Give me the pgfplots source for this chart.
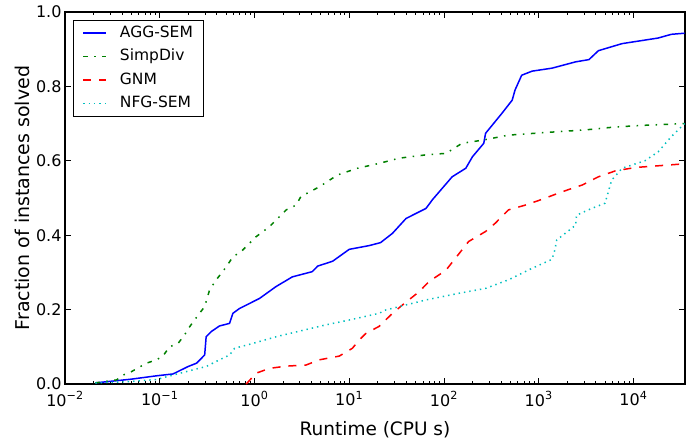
\documentclass[border=0pt]{standalone}
\usepackage{fontspec}
\setmainfont{DejaVu Sans}
\usepackage{pgfplots}
\pgfplotsset{compat=1.18}
\definecolor{mplgreen}{rgb}{0,0.5,0}
\definecolor{mplcyan}{rgb}{0,0.75,0.75}
\begin{document}
\fontsize{16bp}{19bp}\selectfont
\begin{tikzpicture}
\begin{axis}[
  scale only axis, width=620bp, height=372bp,
  xmode=log, xmin=0.01, xmax=35000, ymin=0, ymax=1,
  axis line style={line width=1.1bp},
  every tick/.style={black, line width=0.8bp},
  major tick length=6bp, minor tick length=3.5bp,
  tick align=inside,
  xtick={0.01,0.1,1,10,100,1000,10000},
  xticklabels={10\textsuperscript{−2},10\textsuperscript{−1},10\textsuperscript{0},10\textsuperscript{1},10\textsuperscript{2},10\textsuperscript{3},10\textsuperscript{4}},
  ytick={0,0.2,0.4,0.6,0.8,1},
  yticklabels={0.0,0.2,0.4,0.6,0.8,1.0},
  minor y tick num=0,
  tick label style={font=\fontsize{16bp}{19bp}\selectfont},
  xticklabel style={yshift=-2bp},
  yticklabel style={xshift=2bp},
  xlabel={Runtime (CPU s)},
  ylabel={Fraction of instances solved},
  xlabel style={at={(axis description cs:0.5,-0.1379)}, anchor=base, font=\fontsize{18.5bp}{22bp}\selectfont},
  ylabel style={at={(axis description cs:-0.0565,0.5)}, anchor=base, font=\fontsize{19bp}{22bp}\selectfont},
  legend cell align=left,
  legend image code/.code={\draw[line width=1.5bp,#1] (0bp,0bp) -- (23bp,0bp);},
  legend style={at={(axis description cs:0,1)}, anchor=north west,
    xshift=8bp, yshift=-8bp, draw=black, line width=0.9bp, fill=white,
    inner xsep=9bp, inner ysep=3bp, column sep=11bp, row sep=4bp,
    nodes={inner sep=2bp, text height=12bp, text depth=3.5bp},
    font=\fontsize{15.5bp}{19bp}\selectfont},
]
\addplot[blue, solid, line width=1.5bp] coordinates {
(0.0209,0.003) (0.0501,0.013) (0.0923,0.022) (0.138,0.027) (0.1995,0.047)
(0.245,0.056) (0.298,0.078) (0.309,0.127) (0.350,0.141) (0.427,0.156)
(0.546,0.163) (0.592,0.19) (0.695,0.203) (1.13,0.23) (1.69,0.262)
(2.51,0.288) (4.07,0.302) (4.65,0.317) (6.68,0.33) (10,0.362)
(16.2,0.372) (21.4,0.38) (28.6,0.405) (39.8,0.445) (64.6,0.472)
(75.9,0.496) (122,0.557) (170,0.58) (200,0.611) (263,0.647)
(275,0.674) (407,0.727) (525,0.763) (562,0.79) (661,0.83)
(851,0.841) (1380,0.849) (2455,0.866) (3390,0.872) (4266,0.896)
(7586,0.915) (18200,0.93) (25100,0.94) (34700,0.943)
};
\addlegendentry{AGG-SEM}
\addplot[mplgreen, line width=1.5bp, dash pattern=on 4.5bp off 6.5bp on 1.5bp off 6.5bp] coordinates {
(0.0209,0.003) (0.035,0.011) (0.0411,0.024) (0.0501,0.033) (0.0724,0.056)
(0.0923,0.065) (0.108,0.075) (0.127,0.10) (0.156,0.109) (0.183,0.132)
(0.207,0.154) (0.254,0.185) (0.298,0.208) (0.336,0.253) (0.395,0.28)
(0.504,0.315) (0.592,0.342) (0.724,0.356) (1.04,0.396) (1.44,0.423)
(2.16,0.468) (2.75,0.481) (3.09,0.504) (4.83,0.53) (7.53,0.562)
(12.2,0.58) (20.7,0.593) (33.6,0.607) (64.6,0.616) (105,0.62)
(155,0.647) (263,0.656) (479,0.669) (1175,0.676) (3090,0.683)
(6457,0.691) (14450,0.696) (34700,0.70)
};
\addlegendentry{SimpDiv}
\addplot[red, line width=1.5bp, dash pattern=on 8bp off 8bp] coordinates {
(0.818,0.0) (1.04,0.029) (1.44,0.042) (2.16,0.048) (3.50,0.051)
(4.83,0.065) (7.85,0.075) (10.8,0.096) (12.7,0.118) (15.0,0.136)
(20.7,0.155) (28.6,0.19) (36.3,0.212) (54.6,0.248) (69.2,0.275)
(105,0.306) (132,0.338) (182,0.383) (275,0.41) (347,0.432)
(479,0.468) (724,0.481) (1072,0.496) (1778,0.517) (2884,0.535)
(4266,0.557) (6457,0.573) (10470,0.582) (27540,0.59) (34700,0.592)
};
\addlegendentry{GNM}
\addplot[mplcyan, line width=1.5bp, dash pattern=on 1.4bp off 4bp] coordinates {
(0.0209,0.003) (0.0447,0.006) (0.0923,0.012) (0.138,0.024) (0.224,0.038)
(0.309,0.047) (0.427,0.065) (0.546,0.078) (0.617,0.096) (0.959,0.109)
(1.69,0.127) (2.98,0.142) (5.68,0.159) (10,0.172) (20.7,0.19)
(24.3,0.199) (36.3,0.21) (64.6,0.226) (145,0.244) (275,0.257)
(479,0.28) (851,0.311) (1380,0.335) (1479,0.36) (1549,0.387)
(1905,0.405) (2455,0.427) (2512,0.454) (3631,0.472) (5012,0.486)
(5888,0.548) (7586,0.58) (13180,0.60) (18200,0.624) (25100,0.665)
(34700,0.70)
};
\addlegendentry{NFG-SEM}
\end{axis}
\pgfresetboundingbox
\path ([shift={(-65bp,-55bp)}]current axis.south west) rectangle ([shift={(1bp,12bp)}]current axis.north east);
\end{tikzpicture}
\end{document}
